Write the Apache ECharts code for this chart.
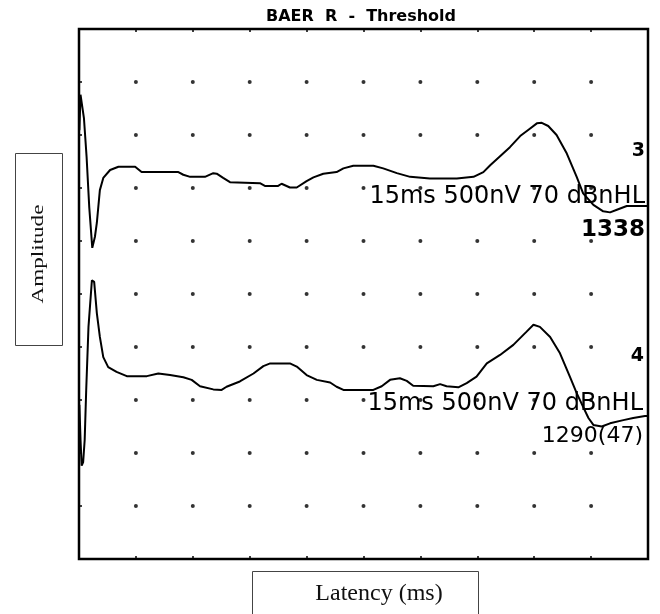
<!DOCTYPE html>
<html>
<head>
<meta charset="utf-8">
<script src="https://cdn.jsdelivr.net/npm/echarts@6/dist/echarts.min.js"></script>
<style>
html,body{margin:0;padding:0;background:#fff;}
#chart{width:660px;height:614px;}
</style>
</head>
<body>
<div id="chart"></div>
<script>
// Trace 3 (upper): latency in ms, amplitude in divisions
const trace3Latency = [0.01,0.04,0.09,0.13,0.20,0.27,0.35,0.42,0.47,0.55,0.64,0.82,1.04,1.48,1.65,2.62,2.75,2.93,3.32,3.54,3.63,3.80,3.98,4.77,4.90,5.25,5.34,5.56,5.74,6.00,6.18,6.44,6.79,6.97,7.23,7.76,8.02,8.38,8.73,9.25,9.96,10.40,10.66,10.84,11.10,11.36,11.63,11.85,12.07,12.20,12.37,12.59,12.86,13.12,13.29,13.56,13.82,14.00,14.18,14.44,14.92,15.0];
const trace3Amp = [8.09,8.76,8.74,8.32,7.59,6.64,5.87,6.08,6.34,6.96,7.19,7.34,7.40,7.40,7.30,7.30,7.25,7.21,7.21,7.28,7.27,7.19,7.11,7.09,7.04,7.04,7.08,7.01,7.01,7.13,7.20,7.27,7.30,7.37,7.42,7.42,7.37,7.28,7.21,7.18,7.18,7.21,7.30,7.43,7.60,7.77,7.98,8.10,8.22,8.23,8.17,8.00,7.65,7.21,6.90,6.68,6.56,6.54,6.59,6.66,6.66,6.66];
// Trace 4 (lower)
const trace4Latency = [0.01,0.04,0.07,0.11,0.15,0.19,0.25,0.34,0.40,0.47,0.55,0.64,0.77,0.99,1.26,1.79,2.09,2.40,2.75,2.97,3.19,3.54,3.76,3.89,4.24,4.60,4.86,5.04,5.56,5.74,6.00,6.27,6.62,6.79,6.97,7.76,7.98,8.20,8.46,8.64,8.81,9.34,9.52,9.69,10.00,10.22,10.48,10.75,11.10,11.45,11.80,11.98,12.15,12.42,12.68,12.94,13.12,13.29,13.43,13.56,13.78,14.00,14.35,14.61,14.92,15.0];
const trace4Amp = [2.91,2.25,1.76,1.83,2.25,3.19,4.38,5.26,5.23,4.64,4.19,3.81,3.62,3.53,3.45,3.45,3.50,3.47,3.43,3.38,3.26,3.20,3.19,3.25,3.35,3.50,3.64,3.69,3.69,3.63,3.47,3.38,3.33,3.25,3.19,3.19,3.26,3.38,3.41,3.36,3.27,3.26,3.30,3.26,3.24,3.32,3.44,3.69,3.85,4.04,4.29,4.42,4.38,4.19,3.88,3.44,3.13,2.87,2.66,2.53,2.50,2.56,2.62,2.66,2.70,2.70];
// Axis scales
const xMin = 0, xMax = 15, xStep = 1.5;
const yMin = 0, yMax = 10, yStep = 1;
// Annotation texts
const titleText = 'BAER  R  -  Threshold';
const trace3Labels = ['3', '15ms 500nV 70 dBnHL', '1338'];
const trace4Labels = ['4', '15ms 500nV 70 dBnHL', '1290(47)'];
const yAxisName = 'Amplitude';
const xAxisName = 'Latency (ms)';

const zip = (xs, ys) => xs.map((x, i) => [x, ys[i]]);
const gridDots = [];
for (let x = xMin + xStep; x < xMax - 1e-6; x += xStep) {
  for (let y = yMin + yStep; y < yMax - 1e-6; y += yStep) gridDots.push([x, y]);
}

const chart = echarts.init(document.getElementById('chart'), null, {renderer: 'canvas'});
const axisCommon = {
  type: 'value', axisLine: {show: false}, axisLabel: {show: false}, splitLine: {show: false},
  axisTick: {show: true, inside: true, length: 3, lineStyle: {color: '#000', width: 1.5}}
};
const sans = '"DejaVu Sans", sans-serif';
chart.setOption({
  animation: false,
  backgroundColor: '#fff',
  grid: {left: 79, right: 12, top: 29, bottom: 55, show: true, borderColor: '#000', borderWidth: 2.5, backgroundColor: 'transparent'},
  xAxis: [
    Object.assign({min: xMin, max: xMax, interval: xStep, position: 'bottom'}, axisCommon),
    Object.assign({min: xMin, max: xMax, interval: xStep, position: 'top'}, axisCommon)
  ],
  yAxis: [Object.assign({min: yMin, max: yMax, interval: yStep, position: 'left'}, axisCommon)],
  series: [
    {type: 'scatter', data: gridDots, symbolSize: 4, itemStyle: {color: '#000'}, silent: true},
    {type: 'line', data: zip(trace3Latency, trace3Amp), showSymbol: false, lineStyle: {color: '#000', width: 2}, z: 3},
    {type: 'line', data: zip(trace4Latency, trace4Amp), showSymbol: false, lineStyle: {color: '#000', width: 2}, z: 3}
  ],
  graphic: [
    {type: 'text', left: 'auto', x: 361, y: 17, style: {text: titleText, font: 'bold 16px ' + sans, fill: '#000', align: 'center', verticalAlign: 'middle'}},
    {type: 'text', x: 645, y: 151, z: 10, style: {text: trace3Labels[0], font: 'bold 19px ' + sans, fill: '#000', align: 'right', verticalAlign: 'middle'}},
    {type: 'text', x: 645, y: 197, z: 10, style: {text: trace3Labels[1], font: '24px ' + sans, fill: '#000', align: 'right', verticalAlign: 'middle'}},
    {type: 'text', x: 645, y: 230.5, z: 10, style: {text: trace3Labels[2], font: 'bold 23px ' + sans, fill: '#000', align: 'right', verticalAlign: 'middle'}},
    {type: 'text', x: 644, y: 356.5, z: 10, style: {text: trace4Labels[0], font: 'bold 19px ' + sans, fill: '#000', align: 'right', verticalAlign: 'middle'}},
    {type: 'text', x: 643, y: 403.5, z: 10, style: {text: trace4Labels[1], font: '24px ' + sans, fill: '#000', align: 'right', verticalAlign: 'middle'}},
    {type: 'text', x: 643, y: 436.5, z: 10, style: {text: trace4Labels[2], font: '22px ' + sans, fill: '#000', align: 'right', verticalAlign: 'middle'}},
    {type: 'rect', shape: {x: 15.5, y: 153.5, width: 47, height: 192}, style: {fill: '#fff', stroke: '#444', lineWidth: 1}},
    {type: 'text', x: 39, y: 254, rotation: Math.PI / 2, scaleX: 1.4, style: {text: yAxisName, font: '16.5px "Liberation Serif", serif', fill: '#111', align: 'center', verticalAlign: 'middle'}},
    {type: 'rect', shape: {x: 252.5, y: 571.5, width: 226, height: 60}, style: {fill: '#fff', stroke: '#444', lineWidth: 1}},
    {type: 'text', x: 379, y: 594, style: {text: xAxisName, font: '24px "Liberation Serif", serif', fill: '#111', align: 'center', verticalAlign: 'middle'}}
  ]
});
</script>
</body>
</html>
